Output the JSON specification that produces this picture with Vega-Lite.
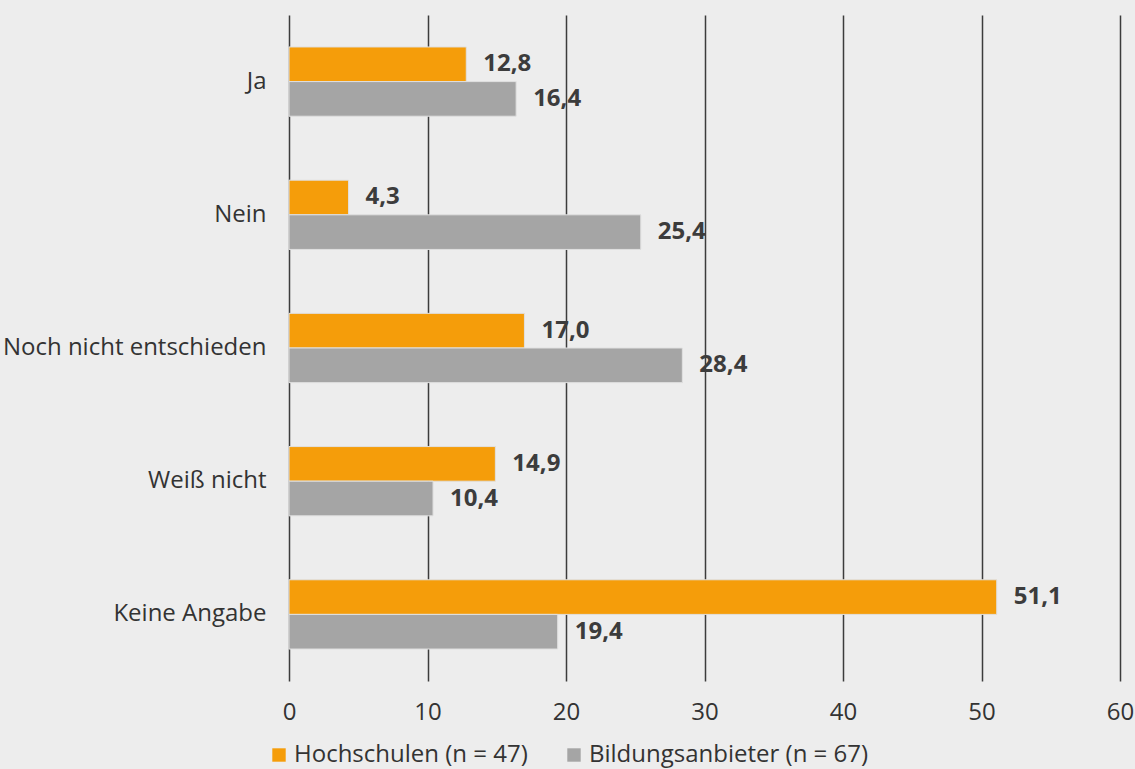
{
  "$schema": "https://vega.github.io/schema/vega-lite/v6.json",
  "width": 831,
  "height": 666,
  "autosize": {"type": "none"},
  "padding": {"left": 289, "top": 15, "right": 15, "bottom": 88},
  "background": "#ededed",
  "config": {"view": {"stroke": null}},
  "data": {
    "values": [
      {"antwort": "Ja", "gruppe": "Hochschulen (n = 47)", "wert": 12.8, "label": "12,8"},
      {"antwort": "Ja", "gruppe": "Bildungsanbieter (n = 67)", "wert": 16.4, "label": "16,4"},
      {"antwort": "Nein", "gruppe": "Hochschulen (n = 47)", "wert": 4.3, "label": "4,3"},
      {"antwort": "Nein", "gruppe": "Bildungsanbieter (n = 67)", "wert": 25.4, "label": "25,4"},
      {"antwort": "Noch nicht entschieden", "gruppe": "Hochschulen (n = 47)", "wert": 17.0, "label": "17,0"},
      {"antwort": "Noch nicht entschieden", "gruppe": "Bildungsanbieter (n = 67)", "wert": 28.4, "label": "28,4"},
      {"antwort": "Weiß nicht", "gruppe": "Hochschulen (n = 47)", "wert": 14.9, "label": "14,9"},
      {"antwort": "Weiß nicht", "gruppe": "Bildungsanbieter (n = 67)", "wert": 10.4, "label": "10,4"},
      {"antwort": "Keine Angabe", "gruppe": "Hochschulen (n = 47)", "wert": 51.1, "label": "51,1"},
      {"antwort": "Keine Angabe", "gruppe": "Bildungsanbieter (n = 67)", "wert": 19.4, "label": "19,4"}
    ]
  },
  "encoding": {
    "y": {
      "field": "antwort",
      "type": "nominal",
      "sort": ["Ja", "Nein", "Noch nicht entschieden", "Weiß nicht", "Keine Angabe"],
      "scale": {"paddingInner": 0.48, "paddingOuter": 0.24},
      "axis": {"title": null, "domain": false, "ticks": false, "labelPadding": 23, "labelFontSize": 24, "labelColor": "#333333", "labelFont": "Open Sans", "labelFontWeight": "normal", "labelLimit": 400}
    },
    "yOffset": {
      "field": "gruppe",
      "type": "nominal",
      "sort": ["Hochschulen (n = 47)", "Bildungsanbieter (n = 67)"]
    },
    "x": {
      "field": "wert",
      "type": "quantitative",
      "scale": {"domain": [0, 60], "nice": false},
      "axis": {"title": null, "values": [0, 10, 20, 30, 40, 50, 60], "domain": false, "ticks": false, "grid": true, "gridColor": "#3c3c3c", "gridWidth": 1.5, "labelFlush": false, "labelPadding": 19, "labelFontSize": 24, "labelColor": "#333333", "labelFont": "Open Sans", "labelFontWeight": "normal"}
    }
  },
  "layer": [
    {
      "mark": {"type": "bar", "stroke": "#e0e0e0", "strokeWidth": 1},
      "encoding": {
        "color": {
          "field": "gruppe",
          "type": "nominal",
          "sort": ["Hochschulen (n = 47)", "Bildungsanbieter (n = 67)"],
          "scale": {"domain": ["Hochschulen (n = 47)", "Bildungsanbieter (n = 67)"], "range": ["#f59d0a", "#a5a5a5"]},
          "legend": {
            "title": null,
            "orient": "none",
            "direction": "horizontal",
            "legendX": -22,
            "legendY": 728,
            "symbolType": "square",
            "symbolSize": 180,
            "symbolStrokeWidth": 0,
            "labelFontSize": 24,
            "labelFont": "Open Sans",
            "labelFontWeight": "normal",
            "labelColor": "#333333",
            "labelOffset": 3,
            "columnPadding": 34,
            "labelLimit": 400
          }
        }
      }
    },
    {
      "mark": {"type": "text", "align": "left", "baseline": "middle", "dx": 17, "font": "Open Sans", "fontWeight": "bold", "fontSize": 24, "color": "#3c3c3c"},
      "encoding": {"text": {"field": "label"}}
    }
  ]
}
